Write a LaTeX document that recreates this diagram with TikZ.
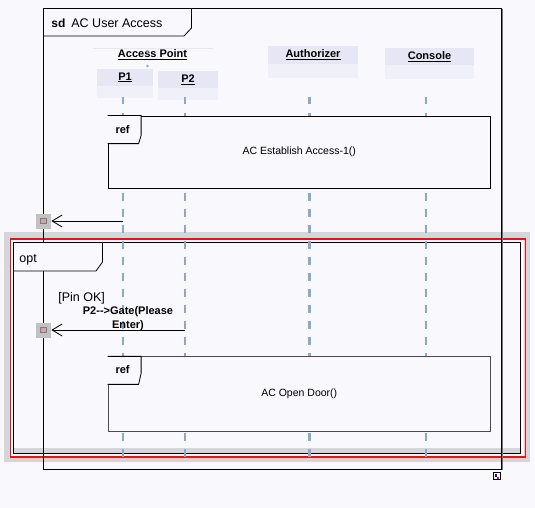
\documentclass[tikz,border=0pt]{standalone}
\usepackage{fontspec}
\setmainfont{Liberation Sans}
\usetikzlibrary{arrows.meta,calc,positioning}
\definecolor{bgcol}{HTML}{F8F8FD}
\definecolor{headtop}{HTML}{E6E6F5}
\definecolor{headlow}{HTML}{F0F0F9}
\definecolor{lifecol}{HTML}{8AA8C8}
\definecolor{halocol}{HTML}{D6D6DA}
\definecolor{gatecol}{HTML}{C2C2C2}
\definecolor{gatedot}{HTML}{C8A8B0}
\definecolor{optred}{HTML}{F01010}
\tikzset {
  >={Straight Barb[length=10pt,width=12pt]},
  every node/.style={font=\fontsize{11}{13.3}\selectfont, inner sep=0pt},
}

\begin{document}
\begin{tikzpicture}[x=1pt,y=-1pt,line width=0.8pt,
  head/.style={fill=headtop, minimum height=17, font=\fontsize{11}{13}\selectfont\bfseries},
  lifeline/.style={lifecol, line width=2.3pt, dash pattern=on 7.5pt off 8.5pt},
  refbox/.style={draw, fill=bgcol, minimum width=382.5, minimum height=72.5, font=\fontsize{10.5}{12}\selectfont},
  reftag/.style={font=\fontsize{11}{13}\selectfont\bfseries, anchor=base west},
  gate/.style={fill=gatecol, minimum size=15},
  msg/.style={->, line width=0.8pt},
  big/.style={font=\fontsize{12.5}{15}\selectfont, anchor=base west},
]
          \fill[bgcol] (0,0) rectangle (535,508);
          \useasboundingbox (0,0) rectangle (535,508);
          \draw[halocol, line width=6pt] (6.5,235) rectangle (527,458.5);
          \draw[optred, line width=1.6pt] (10.5,239) rectangle (525.3,457);
          \fill[halocol] (14,448) rectangle (520,452.5);
          \draw (13.5,242.5) rectangle (520.5,453);
          \draw (43.5,8.5) rectangle (501.5,469.5);
          \draw[black!55] (502.8,9) -- (502.8,469.5);
          \draw[fill=bgcol] (43.5,8.5) -- (191.5,8.5) -- (191.5,28) -- (184,36) -- (43.5,36) -- cycle;
          \node[big, font=\fontsize{12}{14}\selectfont\bfseries] (sd) at (51,27.5) {sd};
          \node[big] (title) at (71,27.5) {AC User Access};
          \node[font=\fontsize{11}{13}\selectfont\bfseries] (ap) at (152.5,55) {\underline{Access Point}};
          \draw[headtop, line width=1.5pt] (93,48.5) -- (213,48.5);
          \filldraw[lifecol] (147.5,51) circle[radius=.7];
          \filldraw[lifecol] (147.5,66) circle[radius=.7];
          \node[head, minimum width=56] (p1) at (125,77.5) {\underline{P1}};
          \fill[headlow] (p1.south west) rectangle ++(56,12);
          \node[head, minimum width=60] (p2) at (188,79.5) {\underline{P2}};
          \fill[headlow] (p2.south west) rectangle ++(60,12);
          \node[head, minimum width=90, minimum height=18] (auth) at (313,55) {\underline{Authorizer}};
          \fill[headlow] (auth.south west) rectangle ++(90,14);
          \node[head, minimum width=89] (cons) at (429.5,56.5) {\underline{Console}};
          \fill[headlow] (cons.south west) rectangle ++(89,14);
          \coordinate (top) at (0,97);
          \coordinate (bot) at (0,458);
          \coordinate (l1) at ($(p1.south)+(-2,0)$);
          \coordinate (l2) at ($(p2.south)+(-3,0)$);
          \coordinate (l3) at ($(auth.south)+(-3.5,0)$);
          \coordinate (l4) at ($(cons.south)+(-3.5,0)$);
          \foreach \l in {l1,l2,l3,l4}
            \draw[lifeline] (\l |- top) -- (\l |- bot);
          \draw[fill=bgcol] (13.5,242.5) -- (102.5,242.5) -- (102.5,262) -- (96,271) -- (13.5,271) -- cycle;
          \node[big] (opt) at (19,262) {opt};
          \node[refbox] (ref1) at (299.25,152.25) {AC Establish Access-1()};
          \draw[fill=bgcol] (ref1.north west) -- ++(33.5,0) -- ++(0,20) -- ++(-2.5,8) -- ++(-31,0);
          \node[reftag] (ref1tag) at ($(ref1.north west)+(7.5,18)$) {ref};
          \node[refbox, minimum height=75, draw=black!70] (ref2) at (299.25,394.25) {AC Open Door()};
          \draw[fill=bgcol] (ref2.north west) -- ++(33.5,0) -- ++(0,17) -- ++(-2.5,11) -- ++(-31,0);
          \node[reftag] (ref2tag) at ($(ref2.north west)+(7.5,17)$) {ref};
          \node[gate] (g1) at (43.5,221) {};
          \node[gate] (g2) at (43.5,330) {};
          \foreach \g in {g1,g2}
            \filldraw[fill=gatedot, draw=gatedot!70!black, line width=0.5pt] ($(\g)+(-3,-2.5)$) rectangle ($(\g)+(3,2.5)$);
          \draw[msg] (l1 |- g1) -- (g1.east);
          \draw[msg] (l2 |- g2) -- (g2.east);
          \node[big] (guard) at (58,301.5) {[Pin OK]};
          \node[font=\fontsize{11}{13.3}\selectfont\bfseries, align=center, anchor=north] (m2) at (128,306.5) {P2-{}->Gate(Please\\Enter)};
          \node[draw, fill=white, minimum size=7.4, line width=0.7pt] (corner) at (497,476) {};
          \fill[blue] (494.5,474) rectangle (496.7,476.5);
          \fill[red] (496.7,476.5) rectangle (499,479);
        \end{tikzpicture}
\end{document}
